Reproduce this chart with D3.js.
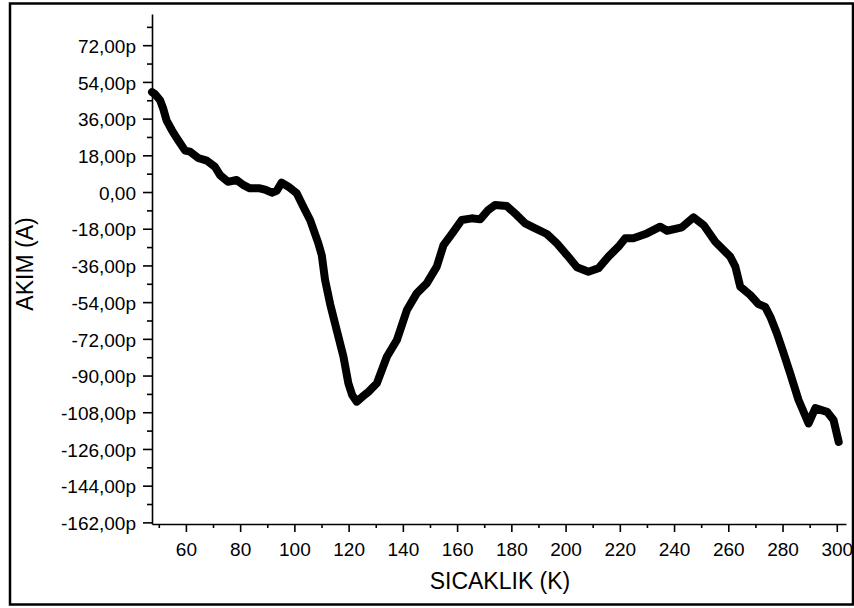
<!DOCTYPE html>
<html lang="tr">
<head>
    <meta charset="UTF-8">
    <title>AKIM - SICAKLIK</title>

    <script src="https://d3js.org/d3.v7.min.js"></script>

    <style>
        body { margin: 0; background: #fff; }
        .line {
            fill: none;
            stroke: #000;
            stroke-width: 8px;
            stroke-linejoin: round;
            stroke-linecap: round;
        }
        .axis path, .axis line { stroke: #000; stroke-width: 1.6px; }
        .axis text { font-family: "Liberation Sans", Arial, sans-serif; font-size: 19px; fill: #000; }
        .title { font-family: "Liberation Sans", Arial, sans-serif; font-size: 23px; fill: #000; }
    </style>
</head>
<body>
<script>

    // Sicaklik (K)
    var temperature = [47.5, 48.6, 50.5, 51.6, 52.9, 54.8, 57.1, 59.7, 61.5, 64.5,
        67.7, 70.7, 72.6, 75.5, 78.7, 81.1, 83.6, 87.3, 89.5, 91.7,
        93.5, 95.3, 97.8, 100.9, 103.3, 105.8, 108.8, 110.1, 111.3, 113.2,
        115.6, 118.1, 119.9, 121.3, 123.0, 125.0, 127.3, 130.4, 134.1, 137.8,
        141.5, 145.1, 148.8, 152.5, 155.0, 158.6, 161.7, 165.4, 168.5, 171.5,
        174.0, 178.3, 182.0, 185.1, 188.8, 193.1, 196.8, 200.5, 204.2, 208.4,
        212.1, 215.8, 219.5, 222.0, 225.0, 230.0, 234.9, 237.4, 242.9, 247.2,
        250.9, 255.2, 260.7, 262.6, 264.4, 268.1, 271.1, 273.6, 275.5, 277.9,
        280.4, 282.8, 285.9, 289.6, 292.1, 296.4, 298.8, 300.7];

    // Akim (pA)
    var current = [49, 48, 45, 41, 35, 30.4, 25.5, 20.3, 19.8, 16.7,
        15.4, 12.4, 8.3, 5, 5.9, 3.5, 1.8, 1.8, 1, -0.3,
        0.6, 4.6, 2.6, -0.7, -7.2, -13.7, -25, -31, -43, -55,
        -67.7, -80.8, -93.8, -99.5, -102.8, -100.5, -98, -93.8, -80.8, -72.6,
        -57.9, -49.7, -44.8, -36.6, -26, -19.5, -13.7, -12.9, -13.4, -8.8,
        -6.4, -6.9, -11.3, -15.4, -17.8, -20.6, -25.2, -30.9, -36.9, -39.1,
        -37.4, -31.7, -26.8, -22.7, -22.7, -20.3, -17, -19, -17.3, -12.4,
        -16.2, -24.4, -31.7, -36.6, -46.4, -50.5, -54.9, -56.3, -61.2, -69.3,
        -79.1, -88.9, -102, -113.5, -106, -107.8, -111.8, -122.5];

    // Tick values
    var xTicks = [60, 80, 100, 120, 140, 160, 180, 200, 220, 240, 260, 280, 300];
    var xMinorTicks = [50, 70, 90, 110, 130, 150, 170, 190, 210, 230, 250, 270, 290];
    var yTicks = [-162, -144, -126, -108, -90, -72, -54, -36, -18, 0, 18, 36, 54, 72];
    var yMinorTicks = [-153, -135, -117, -99, -81, -63, -45, -27, -9, 9, 27, 45, 63, 81];

    var data = temperature.map(function(t, i) { return {t: t, a: current[i]}; });

    var W = 854, H = 608;
    var margin = {top: 14, right: 8, bottom: 84, left: 152},
        width = W - margin.left - margin.right,
        height = H - margin.top - margin.bottom;

    var svg = d3.select("body")
        .append("svg")
        .attr("width", W)
        .attr("height", H);

    // outer frame
    svg.append("rect")
        .attr("x", 10).attr("y", 3.5)
        .attr("width", 843).attr("height", 601)
        .attr("fill", "none")
        .attr("stroke", "#000")
        .attr("stroke-width", 2.5);

    var g = svg.append("g")
        .attr("transform", "translate(" + margin.left + "," + margin.top + ")");

    var x = d3.scaleLinear().domain([47.5, 303.4]).range([0, width]);
    var y = d3.scaleLinear().domain([-162.8, 87.3]).range([height, 0]);

    var fmt = function(d) {
        return d === 0 ? "0,00" : d.toFixed(2).replace(".", ",") + "p";
    };

    // minor ticks first
    g.append("g")
        .attr("class", "axis")
        .attr("transform", "translate(0," + height + ")")
        .call(d3.axisBottom(x).tickValues(xMinorTicks).tickSize(4).tickFormat(""))
        .select(".domain").remove();
    g.append("g")
        .attr("class", "axis")
        .call(d3.axisLeft(y).tickValues(yMinorTicks).tickSize(5).tickFormat(""))
        .select(".domain").remove();

    // X axis
    g.append("g")
        .attr("class", "axis")
        .attr("transform", "translate(0," + height + ")")
        .call(d3.axisBottom(x).tickValues(xTicks).tickSize(8).tickPadding(11).tickSizeOuter(0));

    // Y axis
    g.append("g")
        .attr("class", "axis")
        .call(d3.axisLeft(y).tickValues(yTicks).tickSize(9).tickPadding(7).tickSizeOuter(0).tickFormat(fmt))
        .selectAll("text").attr("dy", "0.38em");

    // data line
    var valueline = d3.line()
        .x(function(d) { return x(d.t); })
        .y(function(d) { return y(d.a); });

    g.append("path")
        .datum(data)
        .attr("class", "line")
        .attr("d", valueline);

    // axis titles
    svg.append("text")
        .attr("class", "title")
        .attr("text-anchor", "middle")
        .attr("x", 500).attr("y", 589)
        .text("SICAKLIK (K)");

    svg.append("text")
        .attr("class", "title")
        .attr("text-anchor", "middle")
        .attr("transform", "translate(33,264) rotate(-90)")
        .text("AKIM (A)");

</script>
</body>
</html>
